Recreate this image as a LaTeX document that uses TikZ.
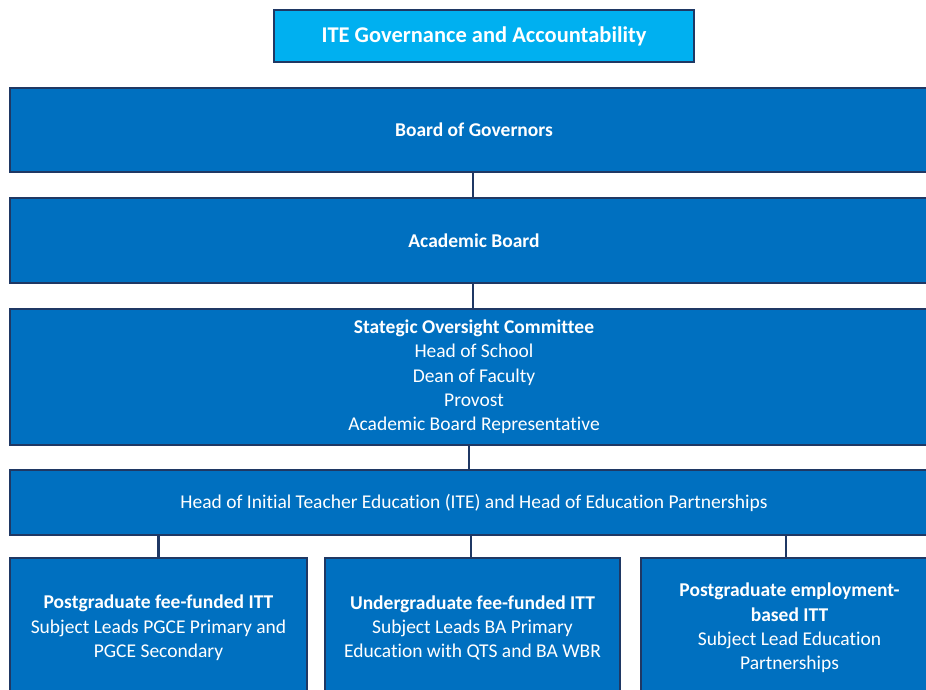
\documentclass[tikz,border=0pt]{standalone}
\usepackage{fontspec}
\setmainfont{Carlito}[RawFeature=-liga]
\definecolor{navy}{HTML}{1F3864}
\definecolor{boxblue}{HTML}{0070C0}
\definecolor{skyblue}{HTML}{00B0F0}
\begin{document}
\begin{tikzpicture}[x=1pt,y=-1pt,
  unit/.style={draw=navy,line width=2.4pt,fill=boxblue,text=white,
    align=center,inner sep=0pt,font=\fontsize{19.5}{24.3}\selectfont},
  titlebox/.style={draw=navy,line width=2.4pt,fill=skyblue,text=white,
    inner sep=0pt,font=\fontsize{22.5}{26}\selectfont\bfseries},
  link/.style={draw=navy,line width=2.4pt}]
\useasboundingbox (0,0) rectangle (926,690);
\clip (0,0) rectangle (926,690);
\fill[white] (0,0) rectangle (926,690);

\node[titlebox,minimum width=420pt,minimum height=52pt] (title) at (484,36)
  {ITE Governance and Accountability};

\node[unit,minimum width=928pt,minimum height=84pt] (bog) at (474,130)
  {\bfseries Board of Governors};
\node[unit,minimum width=928pt,minimum height=85pt] (ab) at (474,240.5)
  {\bfseries Academic Board};
\node[unit,minimum width=928pt,minimum height=136pt] (soc) at (474,377)
  {\textbf{Stategic Oversight Committee}\\Head of School\\Dean of Faculty\\Provost\\Academic Board Representative};
\node[unit,minimum width=928pt,minimum height=65pt] (ite) at (474,502.5)
  {Head of Initial Teacher Education (ITE) and Head of Education Partnerships};

\node[unit,minimum width=297pt,minimum height=140pt] (pg) at (158.5,628)
  {\textbf{Postgraduate fee-funded ITT}\\Subject Leads PGCE Primary and\\PGCE Secondary};
\node[unit,minimum width=295pt,minimum height=140pt] (ug) at (472.5,628)
  {\textbf{Undergraduate fee-funded ITT}\\Subject Leads BA Primary\\Education with QTS and BA WBR};
\node[unit,minimum width=297pt,minimum height=140pt] (pe) at (789.5,628)
  {\textbf{Postgraduate employment-}\\\textbf{based ITT}\\Subject Lead Education\\Partnerships};

\draw[link] (bog.south -| 473,0) -- (ab.north -| 473,0);
\draw[link] (ab.south -| 473,0) -- (soc.north -| 473,0);
\draw[link] (soc.south -| 469,0) -- (ite.north -| 469,0);
\draw[link] (ite.south -| pg.north) -- (pg.north);
\draw[link] (ite.south -| 471,0) -- (ug.north -| 471,0);
\draw[link] (ite.south -| 786,0) -- (pe.north -| 786,0);
\end{tikzpicture}
\end{document}
